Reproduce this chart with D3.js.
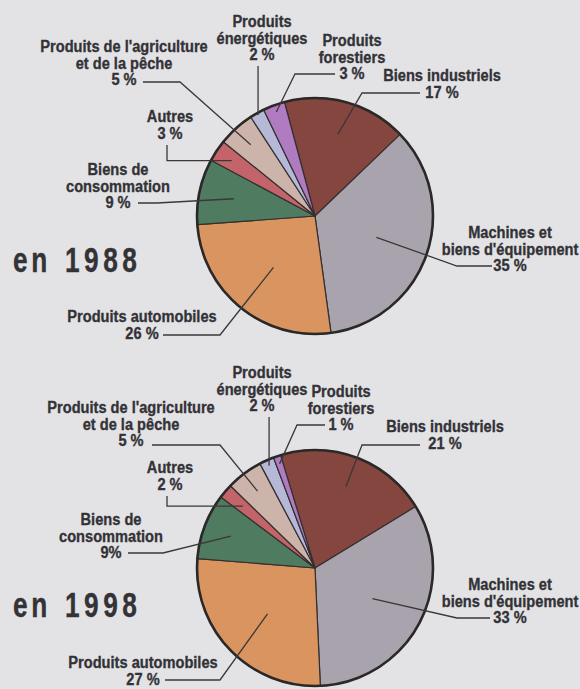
<!DOCTYPE html>
<html><head><meta charset="utf-8">
<script src="https://cdn.jsdelivr.net/npm/d3@7"></script>
<style>
html,body{margin:0;padding:0;background:#e3e3e6;}
svg{display:block;}
text{font-family:"Liberation Sans",Arial,Helvetica,sans-serif;font-weight:bold;fill:#333236;stroke:#333236;stroke-width:0.35px;}
</style>
</head><body>
<script>
// ---- data ----
const categories = ["Biens industriels","Machines et biens d'équipement","Produits automobiles","Biens de consommation","Autres","Produits de l'agriculture et de la pêche","Produits énergétiques","Produits forestiers"];
const nameLines = [["Biens industriels"],["Machines et","biens d'équipement"],["Produits automobiles"],["Biens de","consommation"],["Autres"],["Produits de l'agriculture","et de la pêche"],["Produits","énergétiques"],["Produits","forestiers"]];
const years = ["1988","1998"];
const values1988 = [17,35,26,9,3,5,2,3];
const values1998 = [21,33,27,9,2,5,2,1];
const pctLabels1988 = ["17 %","35 %","26 %","9 %","3 %","5 %","2 %","3 %"];
const pctLabels1998 = ["21 %","33 %","27 %","9%","2 %","5 %","2 %","1 %"];
const colors = ["#84463f","#a9a3ae","#d9945f","#4f7b61","#c3646a","#cdb4ab","#b5b9d7","#b17bc2"];

// ---- layout (positions only) ----
const W = 580, H = 689, R = 118;
const layouts = [
  { cx:315, cy:216, start:-15, yearY:272, labels:[
    {x:442,y:81, lead:[[420,93],[362,93]], r:85},
    {x:510,y:238,lead:[[492,266],[457,266]], r:65},
    {x:142,y:322,lead:[[163,335],[220,335]], r:66},
    {x:118,y:175,lead:[[138,203],[157,203]], r:83},
    {x:170,y:122,lead:[[167,145],[167,null]], r:100},
    {x:124,y:52, lead:[[143,82],[180,82]], r:96},
    {x:262,y:27, lead:[[null,66]], r:116},
    {x:352,y:46, lead:[[335,74],[295,74]], r:111}
  ]},
  { cx:315, cy:568, start:-17, yearY:617, labels:[
    {x:445,y:432,lead:[[420,445],[362,445]], r:87},
    {x:510,y:590,lead:[[490,618],[457,618]], r:65},
    {x:143,y:668,lead:[[165,680],[220,680]], r:66},
    {x:111,y:525,lead:[[128,553],[163,553]], r:90},
    {x:170,y:473,lead:[[167,496],[167,null]], r:95},
    {x:131,y:413,lead:[[152,445],[220,445]], r:96},
    {x:262,y:378,lead:[[null,417]], r:112},
    {x:341,y:397,lead:[[325,425],[297,425]], r:110}
  ]}
];
const series = [values1988, values1998];
const pcts = [pctLabels1988, pctLabels1998];

const FS = 17, SX = 0.86, STEP = 16.6;

const svg = d3.select("body").append("svg").attr("width",W).attr("height",H);
svg.append("rect").attr("width",W).attr("height",H).attr("fill","#e3e3e6");

const arc = d3.arc().innerRadius(0).outerRadius(R);

layouts.forEach((L, k) => {
  const a0 = L.start*Math.PI/180;
  const pie = d3.pie().sort(null).value(d=>d).startAngle(a0).endAngle(a0+2*Math.PI);
  const arcs = pie(series[k]);
  const g = svg.append("g").attr("transform",`translate(${L.cx},${L.cy})`);
  g.selectAll("path.slice").data(arcs).join("path")
    .attr("class","slice").attr("d",arc)
    .attr("fill",(d,i)=>colors[i])
    .attr("stroke","#34302f").attr("stroke-width",1.2).attr("stroke-linejoin","round");
  g.append("circle").attr("r",R).attr("fill","none").attr("stroke","#2b2828").attr("stroke-width",2.6);

  // leaders
  arcs.forEach((d,i) => {
    const lab = L.labels[i];
    const mid = (d.startAngle + d.endAngle)/2;
    const ex = L.cx + lab.r*Math.sin(mid), ey = L.cy - lab.r*Math.cos(mid);
    const pts = lab.lead.map(p => [p[0]===null?ex:p[0], p[1]===null?ey:p[1]]);
    pts.push([ex,ey]);
    svg.append("path").attr("d", d3.line()(pts))
      .attr("fill","none").attr("stroke","#3a3838").attr("stroke-width",1.3);
  });

  // labels
  arcs.forEach((d,i) => {
    const lab = L.labels[i];
    const lines = nameLines[i].concat([pcts[k][i]]);
    const tg = svg.append("g").attr("transform",`translate(${lab.x},0) scale(${SX},1)`);
    lines.forEach((t,j) => {
      tg.append("text").attr("x",0).attr("y",lab.y + j*STEP)
        .attr("text-anchor","middle").attr("font-size",FS).text(t);
    });
  });

  // year
  const yg = svg.append("g").attr("transform",`translate(13,0) scale(0.75,1)`);
  yg.append("text").attr("x",0).attr("y",L.yearY).attr("font-size",35).attr("letter-spacing",5).text("en");
  const yg2 = svg.append("g").attr("transform",`translate(65,0) scale(0.75,1)`);
  yg2.append("text").attr("x",0).attr("y",L.yearY).attr("font-size",35).attr("letter-spacing",6).text(years[k]);
});
</script>
</body></html>
